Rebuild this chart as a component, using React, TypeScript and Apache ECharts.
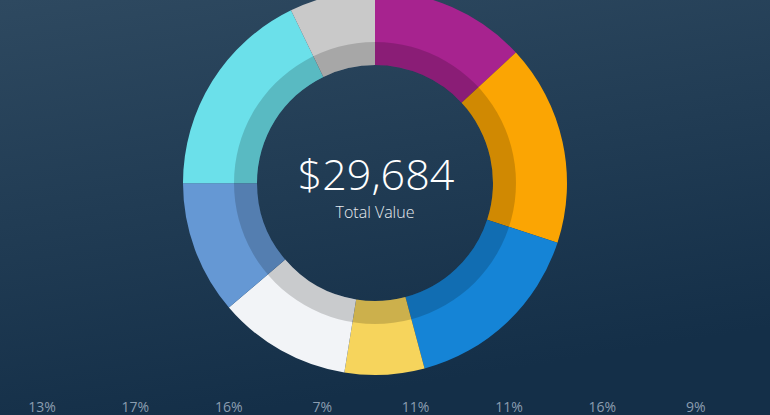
import React, { useEffect, useRef } from "react";
import * as echarts from "echarts";

const categories = ["A", "B", "C", "D", "E", "F", "G", "H"];
const sliceShares = [13.1, 16.9, 15.8, 6.7, 11.2, 11.2, 17.8, 7.2];
const sliceColors = ["#a7238f", "#fba503", "#1584d6", "#f6d45c", "#f2f4f7", "#6598d4", "#6be0ea", "#c9c9c9"];
const percentLabels = ["13%", "17%", "16%", "7%", "11%", "11%", "16%", "9%"];
const totalValue = "$29,684";
const totalCaption = "Total Value";

export default function App() {
  const ref = useRef<HTMLDivElement>(null);
  useEffect(() => {
    document.body.style.margin = "0";
    const chart = echarts.init(ref.current!, null, { renderer: "svg" });
    const data = categories.map((c, i) => ({
      name: c,
      value: sliceShares[i],
      itemStyle: { color: sliceColors[i] },
    }));
    const labelTexts = percentLabels.map((t, i) => ({
      type: "text",
      x: 42 + i * 93.4,
      y: 399,
      style: {
        text: t,
        fill: "#8b9db0",
        font: "14px 'Open Sans'",
        align: "center",
        verticalAlign: "top",
      },
    }));
    chart.setOption({
      animation: false,
      backgroundColor: {
        type: "linear",
        x: 0,
        y: 0,
        x2: 0.3,
        y2: 1,
        colorStops: [
          { offset: 0, color: "#2e4960" },
          { offset: 1, color: "#142f48" },
        ],
      },
      series: [
        {
          type: "pie",
          center: [375, 183],
          radius: [118, 192],
          startAngle: 90,
          clockwise: true,
          silent: true,
          label: { show: false },
          labelLine: { show: false },
          itemStyle: { borderWidth: 0 },
          data,
        },
        {
          type: "pie",
          center: [375, 183],
          radius: [118, 141],
          silent: true,
          label: { show: false },
          labelLine: { show: false },
          itemStyle: { borderWidth: 0 },
          data: [{ name: "shade", value: 1, itemStyle: { color: "rgba(0,0,0,0.17)" } }],
        },
      ],
      graphic: [
        {
          type: "text",
          x: 376,
          y: 173,
          style: {
            text: totalValue,
            fill: "#ffffff",
            font: "300 43px 'Open Sans'",
            align: "center",
            verticalAlign: "middle",
          },
        },
        {
          type: "text",
          x: 375,
          y: 212,
          style: {
            text: totalCaption,
            fill: "#e6ebef",
            font: "300 16px 'Open Sans'",
            align: "center",
            verticalAlign: "middle",
          },
        },
        ...labelTexts,
      ],
    });
    return () => chart.dispose();
  }, []);
  return <div ref={ref} style={{ width: 770, height: 415, position: "fixed", left: 0, top: 0 }} />;
}
